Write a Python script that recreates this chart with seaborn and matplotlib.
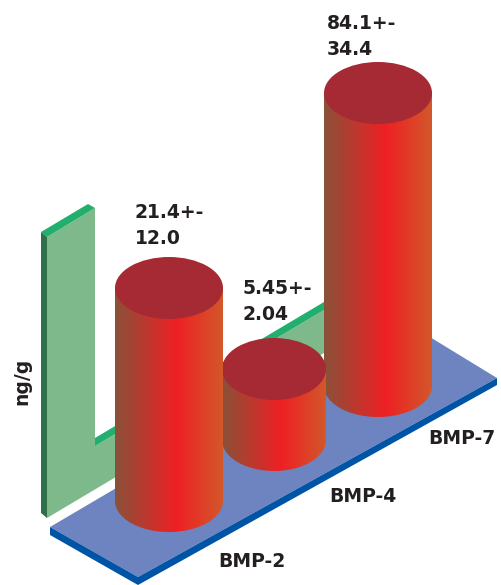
import numpy as np
import seaborn as sns
import matplotlib
matplotlib.use('Agg')
import matplotlib.pyplot as plt
from matplotlib.colors import LinearSegmentedColormap
from matplotlib.patches import Ellipse, Polygon
from matplotlib.path import Path

# Datos
categorias = ['BMP-2', 'BMP-4', 'BMP-7']
medias = ['21.4+-', '5.45+-', '84.1+-']
errores = ['12.0', '2.04', '34.4']
alturas = [213, 71, 293]  # altura dibujada de cada cilindro

# Geometria del dibujo, en pixeles desde arriba
ANCHO, ALTO = 501, 585
centros = [169, 274, 378]
anchos = [108, 104, 108]
bases = [501, 440, 386]
semi_elipse = 31

sns.set_theme(style='white')
plt.rcParams['font.family'] = ['DejaVu Sans']

fig = plt.figure(figsize=(ANCHO / 100, ALTO / 100), dpi=100)
ax = fig.add_axes([0, 0, 1, 1])


def py(y):
    return ALTO - y


def poly(puntos, color, z):
    ax.add_patch(Polygon([(x, py(y)) for x, y in puntos], closed=True, fc=color, ec='none', zorder=z))


# Pared verde
poly([(47, 237), (95, 208), (95, 446), (324, 310), (324, 353), (47, 518)], '#7DB98B', 1)
poly([(41, 232), (88, 204), (95, 208), (47, 237)], '#22AE6C', 1)
poly([(95, 438), (324, 302), (324, 310), (95, 446)], '#22AE6C', 1)
poly([(41, 232), (47, 237), (47, 518), (41, 513)], '#2F6F4C', 1)

# Plataforma azul
poly([(50, 527), (138, 577), (497, 378), (402, 320)], '#6E84C0', 2)
poly([(50, 527), (138, 577), (138, 585), (50, 535)], '#0054A6', 2)
poly([(138, 577), (497, 378), (497, 385), (138, 585)], '#0054A6', 2)

# Barras: seaborn las crea y luego se rellenan con el degradado
sns.barplot(x=centros, y=alturas, native_scale=True, width=1, color='#EE2024', ax=ax, zorder=3)

degradado = LinearSegmentedColormap.from_list(
    'cilindro', [(0, '#8A5139'), (0.57, '#EE2024'), (1, '#D2582A')])
gradiente = np.linspace(0, 1, 256).reshape(1, -1)

for i, barra in enumerate(ax.containers[0]):
    ancho = anchos[i]
    izq = centros[i] - ancho / 2
    y_base = py(bases[i])
    barra.set_x(izq)
    barra.set_width(ancho)
    barra.set_y(y_base)
    barra.set_visible(False)
    y_tapa = y_base + barra.get_height()
    z = 3 + (2 - i)

    t = np.linspace(np.pi, 2 * np.pi, 80)
    arco = np.column_stack([centros[i] + ancho / 2 * np.cos(t), y_base + semi_elipse * np.sin(t)])
    contorno = np.vstack([[izq, y_tapa], arco, [izq + ancho, y_tapa], [izq, y_tapa]])
    img = ax.imshow(gradiente, cmap=degradado, aspect='auto', zorder=z,
                    extent=[izq, izq + ancho, y_base - semi_elipse, y_tapa])
    img.set_clip_path(Path(contorno), transform=ax.transData)
    ax.add_patch(Ellipse((centros[i], y_tapa), ancho, 2 * semi_elipse, fc='#A52A33',
                         ec='none', zorder=z + 0.1))

ax.set_xlim(0, ANCHO)
ax.set_ylim(0, ALTO)
ax.axis('off')

# Textos
estilo = dict(color='#231F20', fontsize=13.5, fontweight='bold', zorder=10)
x_media = [135, 243, 327]
y_media = [218, 294, 29]
for i in range(3):
    ax.text(x_media[i], py(y_media[i]), medias[i], va='baseline', **estilo)
    ax.text(x_media[i], py(y_media[i] + 26), errores[i], va='baseline', **estilo)

x_cat = [218, 329, 428]
y_cat = [567, 502, 444]
for i in range(3):
    ax.text(x_cat[i], py(y_cat[i]), categorias[i], va='baseline', **estilo)

ax.text(27, py(405), 'ng/g', rotation=90, rotation_mode='anchor', ha='left', va='baseline', **estilo)

plt.savefig('out.png', dpi=100)
